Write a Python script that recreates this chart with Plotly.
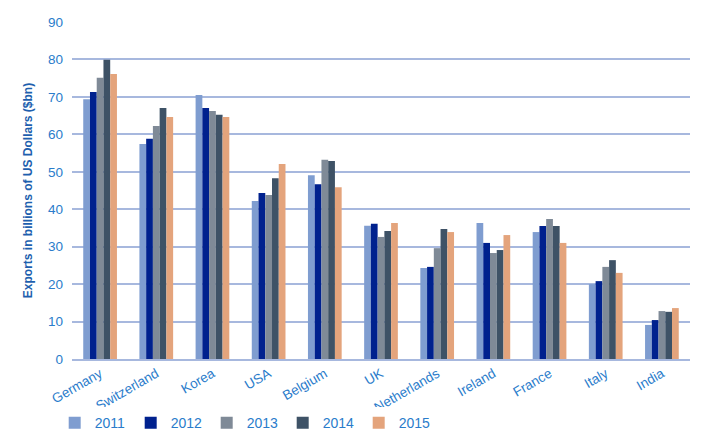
import plotly.graph_objects as go

countries = ["Germany", "Switzerland", "Korea", "USA", "Belgium", "UK",
             "Netherlands", "Ireland", "France", "Italy", "India"]
years = ["2011", "2012", "2013", "2014", "2015"]

v2011 = [69.4, 57.4, 70.5, 42.2, 49.1, 35.6, 24.3, 36.3, 33.9, 20.0, 9.1]
v2012 = [71.3, 58.8, 67.0, 44.3, 46.7, 36.1, 24.6, 31.0, 35.5, 20.8, 10.4]
v2013 = [75.1, 62.2, 66.2, 43.8, 53.2, 32.6, 29.6, 28.3, 37.4, 24.6, 12.8]
v2014 = [79.9, 67.0, 65.2, 48.3, 52.9, 34.2, 34.7, 29.1, 35.5, 26.4, 12.6]
v2015 = [76.1, 64.6, 64.6, 52.1, 45.9, 36.3, 33.9, 33.1, 31.0, 23.0, 13.6]

series = [v2011, v2012, v2013, v2014, v2015]
colors = ["#7f9dd0", "#00218e", "#7f8a97", "#3e5266", "#e4a47c"]

tick_color = "#2a7ccb"
title_color = "#1e5fae"

fig = go.Figure()
for yr, vals, c in zip(years, series, colors):
    fig.add_trace(go.Bar(name=yr, x=countries, y=vals, marker_color=c,
                         marker_line_width=0))

fig.update_layout(
    width=708, height=425,
    paper_bgcolor="white", plot_bgcolor="white",
    barmode="group", bargap=0.40, bargroupgap=0,
    margin=dict(l=64, r=26, t=14, b=74, autoexpand=False),
    font=dict(family="Liberation Sans, Arial, sans-serif", size=13, color=tick_color),
    showlegend=True,
    legend=dict(orientation="h", x=-0.028, xanchor="left", y=-0.19, yanchor="middle",
                entrywidth=31, entrywidthmode="pixels", itemwidth=30,
                font=dict(size=14, color=tick_color), traceorder="normal"),
    xaxis=dict(tickangle=-30, showgrid=False, showline=True, linecolor="#a7b8de",
               linewidth=1.5, ticks="", automargin=False,
               tickfont=dict(size=13.5, color=tick_color)),
    yaxis=dict(range=[0, 90], dtick=10, showgrid=True, gridcolor="#a7b8de",
               gridwidth=1.5, zeroline=False, ticks="", showline=False,
               automargin=False, ticklabelstandoff=8,
               tickfont=dict(size=13.5, color=tick_color),
               title=dict(text="<b>Exports in billions of US Dollars ($bn)</b>",
                          font=dict(size=12, color=title_color), standoff=12)),
)

fig.write_html("out.html")
